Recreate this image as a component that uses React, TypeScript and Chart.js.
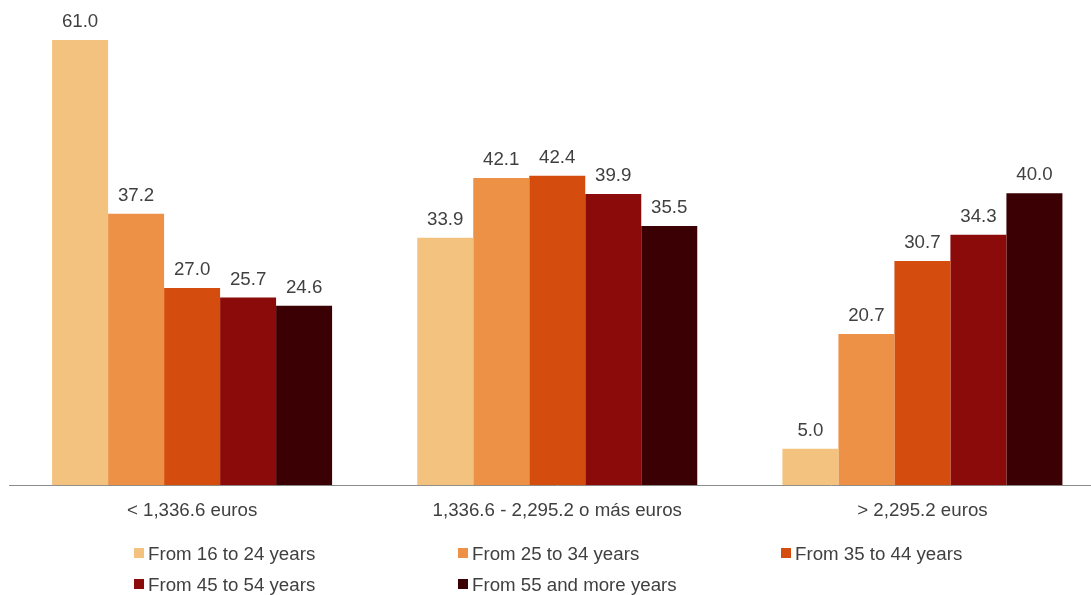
import React, { useEffect, useRef } from "react";
import { Chart, registerables } from "chart.js";

Chart.register(...registerables);

const categories = ["< 1,336.6 euros", "1,336.6 - 2,295.2 o más euros", "> 2,295.2 euros"];
const seriesNames = [
  "From 16 to 24 years",
  "From 25 to 34 years",
  "From 35 to 44 years",
  "From 45 to 54 years",
  "From 55 and more years",
];
const age16to24 = [61.0, 33.9, 5.0];
const age25to34 = [37.2, 42.1, 20.7];
const age35to44 = [27.0, 42.4, 30.7];
const age45to54 = [25.7, 39.9, 34.3];
const age55plus = [24.6, 35.5, 40.0];
const seriesValues = [age16to24, age25to34, age35to44, age45to54, age55plus];
const seriesColors = ["#F4C27F", "#ED9146", "#D54D0E", "#8B0A0A", "#3A0004"];

const FONT = "'Liberation Sans', Arial, sans-serif";
const FONT_SIZE = 18.7;
const TEXT_COLOR = "#404040";

const valueLabelPlugin = {
  id: "valueLabels",
  afterDatasetsDraw(chart: any) {
    const ctx = chart.ctx;
    ctx.save();
    ctx.font = `${FONT_SIZE}px ${FONT}`;
    ctx.fillStyle = TEXT_COLOR;
    ctx.textAlign = "center";
    ctx.textBaseline = "alphabetic";
    chart.data.datasets.forEach((ds: any, i: number) => {
      const meta = chart.getDatasetMeta(i);
      meta.data.forEach((bar: any, j: number) => {
        const v = ds.data[j] as number;
        ctx.fillText(v.toFixed(1), bar.x, bar.y - 13);
      });
    });
    ctx.restore();
  },
};

const legendCols = [134, 458, 781];
const legendRows = [548, 579];

const customLegendPlugin = {
  id: "customLegend",
  afterDraw(chart: any) {
    const ctx = chart.ctx;
    ctx.save();
    ctx.font = `${FONT_SIZE}px ${FONT}`;
    ctx.textBaseline = "alphabetic";
    ctx.textAlign = "left";
    chart.data.datasets.forEach((ds: any, i: number) => {
      const col = i % 3;
      const row = Math.floor(i / 3);
      const x = legendCols[col];
      const y = legendRows[row];
      ctx.fillStyle = ds.backgroundColor;
      ctx.fillRect(x, y, 10, 10);
      ctx.fillStyle = TEXT_COLOR;
      ctx.fillText(ds.label, x + 14, y + 11.5);
    });
    ctx.restore();
  },
};

export default function App() {
  const canvasRef = useRef<HTMLCanvasElement | null>(null);

  useEffect(() => {
    if (!canvasRef.current) return;
    const chart = new Chart(canvasRef.current, {
      type: "bar",
      data: {
        labels: categories,
        datasets: seriesNames.map((name, i) => ({
          label: name,
          data: seriesValues[i],
          backgroundColor: seriesColors[i],
          borderWidth: 0,
          barPercentage: 1,
          categoryPercentage: 0.7668,
        })),
      },
      options: {
        responsive: false,
        animation: false,
        layout: { padding: { left: 9.5, right: 0, top: 3.5, bottom: 59.4 } },
        plugins: {
          legend: { display: false },
          tooltip: { enabled: false },
        },
        scales: {
          x: {
            grid: { display: false, drawTicks: false },
            border: { display: true, color: "#8c8c8c", width: 1 },
            ticks: {
              color: TEXT_COLOR,
              font: { family: FONT, size: FONT_SIZE },
              padding: 14,
              maxRotation: 0,
              autoSkip: false,
            },
          },
          y: {
            display: false,
            min: 0,
            max: 66,
          },
        },
      },
      plugins: [valueLabelPlugin, customLegendPlugin],
    });
    return () => chart.destroy();
  }, []);

  return (
    <div
      style={{
        position: "absolute",
        left: 0,
        top: 0,
        width: 1091,
        height: 595,
        overflow: "hidden",
        background: "#ffffff",
      }}
    >
      <canvas ref={canvasRef} width={1105} height={595} style={{ display: "block" }} />
    </div>
  );
}
